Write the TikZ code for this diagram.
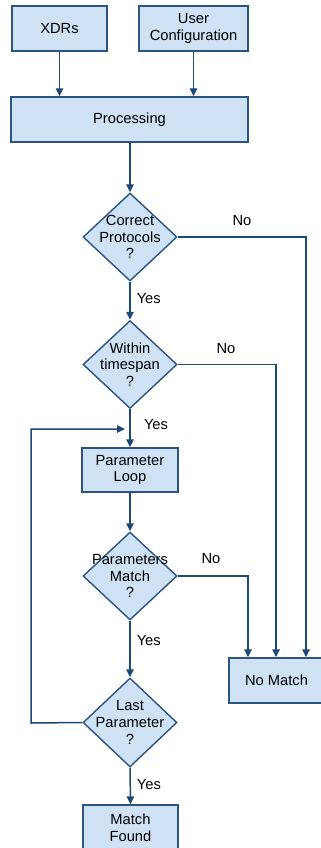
\documentclass[tikz,border=0pt]{standalone}
\usepackage{fontspec}
\setmainfont{Liberation Sans}
\usetikzlibrary{arrows.meta,shapes.geometric}
\definecolor{boxfill}{RGB}{207,226,243}
\definecolor{boxline}{RGB}{44,84,128}
\definecolor{flowline}{RGB}{30,72,118}
\begin{document}
\begin{tikzpicture}[x=1pt,y=-1pt,
  font=\fontsize{14.7}{16.8}\selectfont,
  procbox/.style={draw=boxline,fill=boxfill,line width=1.4pt,align=center,
    minimum height=45pt,inner sep=0pt},
  decision/.style={diamond,draw=boxline,fill=boxfill,line width=1.4pt,
    minimum width=94pt,minimum height=88pt,inner sep=0pt},
  dtext/.style={label={[align=center,inner sep=0pt]center:#1}},
  flow/.style={draw=flowline,line width=1.5pt,
    -{Triangle[width=7.5pt,length=8pt]}},
  answer/.style={inner sep=0pt}]
\useasboundingbox (0,0) rectangle (321,848);
\clip (0,0) rectangle (321,848);

% inputs and preprocessing
\node[procbox,minimum width=95pt]  (xdr)  at (59.5,28.5)  {XDRs};
\node[procbox,minimum width=109pt] (usr)  at (193.5,28.5) {User\\Configuration};
\node[procbox,minimum width=237pt] (proc) at (129.5,119.5) {Processing};

% decision chain
\node[decision,dtext={Correct\\Protocols\\?}] (cp) at (130,237) {};
\node[decision,dtext={Within\\timespan\\?}]  (wt) at (130,364.5) {};
\node[procbox,minimum width=96pt,minimum height=44pt] (pl) at (130,470) {Parameter\\Loop};
\node[decision,dtext={Parameters\\Match\\?}] (pm) at (130,576) {};
\node[decision,minimum height=89pt,dtext={Last\\Parameter\\?}] (lp) at (130,722.5) {};

% outcomes
\node[procbox,minimum width=95pt] (nm) at (276.5,680.5) {No Match};
\node[procbox,minimum width=95pt,minimum height=46pt] (mf) at (130.5,828) {Match\\Found};

% routing points for the "No" branches and the loop
\coordinate (cpR) at (306,237);
\coordinate (wtR) at (276,364.5);
\coordinate (pmR) at (248,576);
\coordinate (loopL) at (31,723);
\coordinate (loopT) at (31,429);
\coordinate (loopE) at (125,429);

% connectors
\draw[flow] (xdr.south) -- (xdr.south |- proc.north);
\draw[flow] (usr.south) -- (usr.south |- proc.north);
\draw[flow] (proc.south -| cp.north) -- (cp.north);
\draw[flow] (cp.south) -- node[answer,right=6pt,pos=0.45]{Yes} (wt.north);
\draw[flow] (wt.south) -- (pl.north);
\draw[flow] (pl.south) -- (pm.north);
\draw[flow] (pm.south) -- node[answer,right=6pt,pos=0.35]{Yes} (lp.north);
\draw[flow] (lp.south) -- node[answer,right=6pt,pos=0.45]{Yes} (mf.north);

\draw[flow] (cp.east) -- (cpR) -- (cpR |- nm.north);
\draw[flow] (wt.east) -- (wtR) -- (wtR |- nm.north);
\draw[flow] (pm.east) -- (pmR) -- (pmR |- nm.north);
\draw[flow] (lp.west) -- (loopL) -- (loopT) -- (loopE);

% branch labels
\node[answer] (no1) at (242,221) {No};
\node[answer] (no2) at (226,349) {No};
\node[answer] (no3) at (211,559) {No};
\node[answer] (yes2) at (156,425) {Yes};
\end{tikzpicture}
\end{document}
